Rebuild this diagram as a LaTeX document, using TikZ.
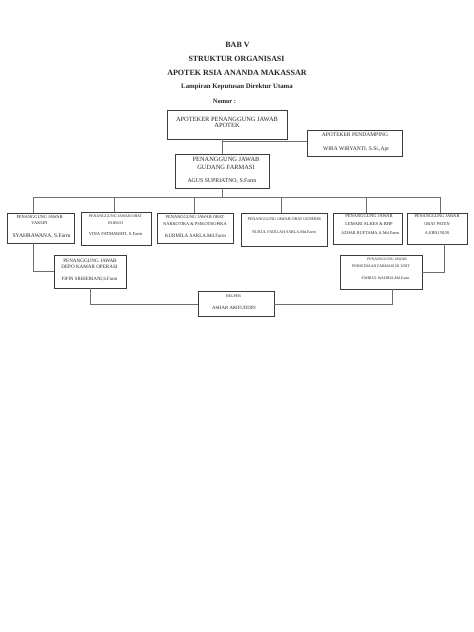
\documentclass[tikz,border=0pt]{standalone}
\usepackage{fontspec}
\setmainfont{Liberation Serif}
\definecolor{boxc}{HTML}{3C3C3C}
\definecolor{linec}{HTML}{6E6E6E}
\newcommand{\fs}[1]{\fontsize{#1}{#1}\selectfont}
\begin{document}
\begin{tikzpicture}[x=1pt,y=-1pt,
  box/.style={draw=boxc,line width=0.8pt,rectangle,inner sep=0pt},
  conn/.style={draw=linec,line width=0.7pt},
  tx/.style={inner sep=0pt,text=black!85}]
\useasboundingbox[fill=white] (0,0) rectangle (474,632);
% titles
\node[tx,font=\bfseries\fs{8}] (t1) at (237.5,45) {BAB V};
\node[tx,font=\bfseries\fs{7.9}] (t2) at (236.5,59) {STRUKTUR ORGANISASI};
\node[tx,font=\bfseries\fs{8}] (t3) at (237,73) {APOTEK RSIA ANANDA MAKASSAR};
\node[tx,font=\bfseries\fs{6.8}] (t4) at (237,87) {Lampiran Keputusan Direktur Utama};
\node[tx,font=\bfseries\fs{6.5}] (t5) at (224.5,101) {Nomor :};
% boxes
\node[box,minimum width=120,minimum height=29] (ap) at (227,124.5) {};
\node[box,minimum width=94,minimum height=34] (gd) at (222,171) {};
\node[box,minimum width=95,minimum height=26] (pd) at (354.5,143) {};
\node[box,minimum width=67,minimum height=30] (v1) at (40.5,228) {};
\node[box,minimum width=70,minimum height=33] (v2) at (116,228.5) {};
\node[box,minimum width=76,minimum height=30] (v3) at (195,228) {};
\node[box,minimum width=86,minimum height=33] (v4) at (284,229.5) {};
\node[box,minimum width=69,minimum height=31] (v5) at (367.5,228.5) {};
\node[box,minimum width=60,minimum height=31] (v6) at (437,228.5) {};
\node[box,minimum width=72,minimum height=33] (dp) at (90,271.5) {};
\node[box,minimum width=82,minimum height=34] (ps) at (381,272) {};
\node[box,minimum width=76,minimum height=25] (hp) at (236,303.5) {};
% texts
\node[tx,font=\fs{6.4}] (ap1) at (227,119.3) {APOTEKER PENANGGUNG JAWAB};
\node[tx,font=\fs{6.4}] (ap2) at (227,125.3) {APOTEK};
\node[tx,font=\fs{6.4}] (gd1) at (226,159) {PENANGGUNG JAWAB};
\node[tx,font=\fs{6.4}] (gd2) at (226,167) {GUDANG FARMASI};
\node[tx,font=\fs{5.8}] (gd3) at (222,181) {AGUS SUPRIATNO, S.Farm};
\node[tx,font=\fs{5.5}] (pd1) at (355,135) {APOTEKER PENDAMPING};
\node[tx,font=\fs{5.5}] (pd2) at (356,149) {WIRA WIRYANTI, S.Si.,Apt};
\node[tx,font=\fs{4.4}] (v1a) at (39.5,217) {PENANGGUNG JAWAB};
\node[tx,font=\fs{4.4}] (v1b) at (39.5,223) {VAKSIN};
\node[tx,font=\fs{5.6}] (v1c) at (41.5,236) {SYAHRAWANA, S.Farm};
\node[tx,font=\fs{4.0}] (v2a) at (115.5,216) {PENANGGUNG JAWAB OBAT};
\node[tx,font=\fs{4.0}] (v2b) at (115.5,223) {INJEKSI};
\node[tx,font=\fs{4.5}] (v2c) at (115.5,234) {VINA FATMAWATI, S.Farm};
\node[tx,font=\fs{4.4}] (v3a) at (195,217) {PENANGGUNG JAWAB OBAT};
\node[tx,font=\fs{4.4}] (v3b) at (195,224) {NARKOTIKA \& PSIKOTROPIKA};
\node[tx,font=\fs{5.0}] (v3c) at (195.5,236) {KURMILA SARLA.Md.Farm};
\node[tx,font=\fs{4.1}] (v4a) at (284.5,219) {PENANGGUNG JAWAB OBAT GENERIK};
\node[tx,font=\fs{4.1}] (v4b) at (284,232) {NURUL FADILAH SARLA.Md.Farm};
\node[tx,font=\fs{4.5}] (v5a) at (369,216) {PENANGGUNG JAWAB};
\node[tx,font=\fs{4.5}] (v5b) at (369,224) {LEMARI ALKES \& BHP};
\node[tx,font=\fs{4.3}] (v5c) at (370,233) {AZHAR RUFTAMA,A.Md.Farm};
\node[tx,font=\fs{4.3}] (v6a) at (437,216) {PENANGGUNG JAWAB};
\node[tx,font=\fs{4.3}] (v6b) at (437,224) {OBAT PATEN};
\node[tx,font=\fs{4.3}] (v6c) at (437,233) {A.ERNI NUR};
\node[tx,font=\fs{5.1}] (dp1) at (90,261) {PENANGGUNG JAWAB};
\node[tx,font=\fs{5.1}] (dp2) at (89.5,267) {DEPO KAMAR OPERASI};
\node[tx,font=\fs{4.8}] (dp3) at (89.5,279) {FIFIN SRIHERIANI,S.Farm};
\node[tx,font=\fs{3.8}] (ps1) at (387,259) {PENANGGUNG JAWAB};
\node[tx,font=\fs{3.9}] (ps2) at (381,266) {PERSEDIAAN FARMASI DI UNIT};
\node[tx,font=\fs{3.9}] (ps3) at (385.5,278) {FAHRUL WAHIDA.Md.Farm};
\node[tx,font=\fs{4.0}] (hp1) at (233.5,296) {HELPER};
\node[tx,font=\fs{4.8}] (hp2) at (234,308) {ASHAR ARIFUDDIN};
% connectors
\coordinate (j1) at (222,141);
\coordinate (bus) at (222,197);
\coordinate (busL) at (33,197);
\coordinate (busR) at (440,197);
\draw[conn] (gd.north) -- (gd.north |- ap.south);
\draw[conn] (j1) -- (j1 -| pd.west);
\draw[conn] (gd.south) -- (bus);
\draw[conn] (busL) -- (busR);
\draw[conn] (busL) -- (busL |- v1.north);
\draw[conn] ([xshift=-2]v2.north |- bus) -- ([xshift=-2]v2.north);
\draw[conn] ([xshift=-1]v3.north |- bus) -- ([xshift=-1]v3.north);
\draw[conn] ([xshift=-3]v4.north |- bus) -- ([xshift=-3]v4.north);
\draw[conn] ([xshift=-1.5]v5.north |- bus) -- ([xshift=-1.5]v5.north);
\draw[conn] (busR) -- (busR |- v6.north);
\coordinate (c1) at (33,271);
\coordinate (c2) at (90,304);
\coordinate (c3) at (392,304);
\coordinate (c4) at (444,272);
\draw[conn] (c1 |- v1.south) -- (c1) -- (c1 -| dp.west);
\draw[conn] (dp.south) -- (c2) -- (c2 -| hp.west);
\draw[conn] (c3 -| hp.east) -- (c3) -- (c3 |- ps.south);
\draw[conn] (c4 |- v6.south) -- (c4) -- (c4 -| ps.east);
\end{tikzpicture}
\end{document}
